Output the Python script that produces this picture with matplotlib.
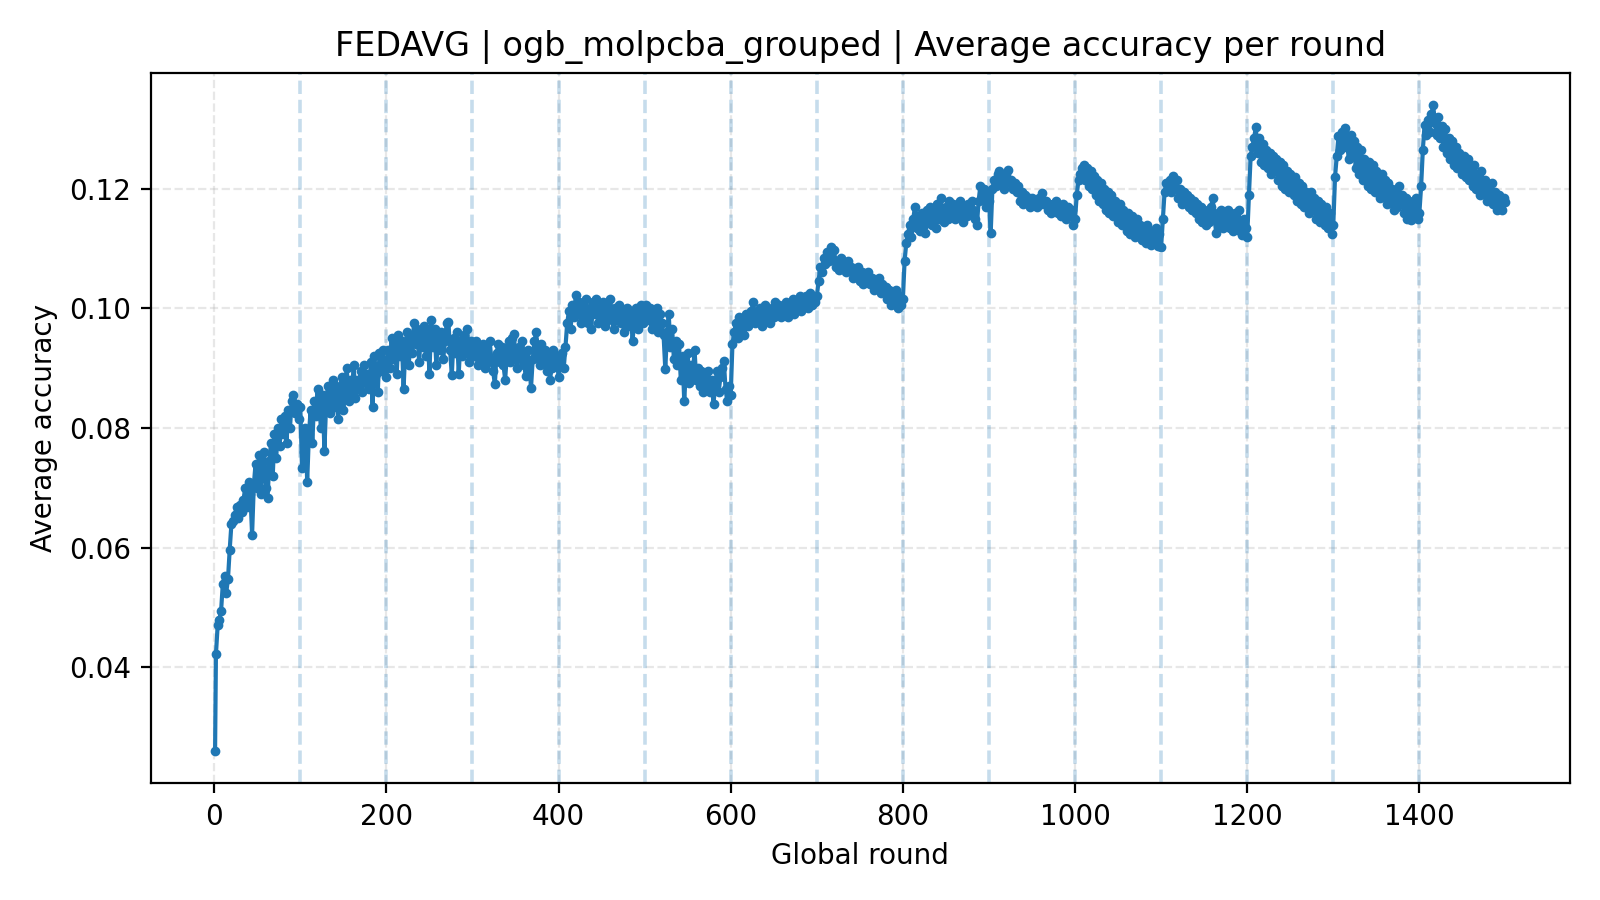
import matplotlib
matplotlib.use("Agg")
import matplotlib.pyplot as plt
import numpy as np

# ── Data: accuracy x 1e-4, one value every 2 rounds ──
FIRST_ROUND_ACC = 260

SEG_01 = [422, 470, 480, 495, 540, 553, 525, 548, 597, 640,
          645, 655, 668, 650, 672, 660, 680, 700, 668, 710,
          690, 622, 705, 740, 700, 755, 690, 735, 760, 700,
          683, 745, 775, 720, 790, 750, 800, 770, 815, 790,
          820, 775, 830, 800, 845, 856, 825, 840, 815, 835]
SEG_02 = [733, 760, 800, 710, 790, 830, 775, 845, 820, 865,
          835, 800, 855, 762, 840, 870, 825, 860, 880, 835,
          870, 815, 860, 885, 830, 870, 900, 845, 880, 860,
          905, 850, 880, 865, 895, 860, 905, 875, 890, 865,
          910, 835, 920, 890, 860, 925, 895, 930, 900, 885]
SEG_03 = [930, 900, 950, 915, 940, 890, 955, 920, 945, 866,
          935, 960, 905, 950, 925, 975, 940, 965, 910, 955,
          935, 970, 920, 960, 890, 980, 935, 965, 905, 950,
          930, 960, 915, 945, 975, 978, 930, 888, 950, 925,
          960, 890, 945, 920, 955, 930, 965, 910, 945, 935]
SEG_04 = [920, 945, 905, 935, 915, 940, 900, 930, 910, 945,
          915, 895, 873, 925, 940, 910, 935, 905, 881, 925,
          945, 910, 950, 957, 920, 900, 935, 915, 945, 905,
          887, 930, 910, 867, 915, 945, 960, 925, 905, 940,
          915, 930, 895, 920, 881, 900, 930, 905, 920, 885]
SEG_05 = [905, 925, 900, 935, 975, 995, 965, 1005, 985, 1023,
          990, 1010, 975, 1005, 985, 1015, 975, 1000, 965, 1010,
          990, 1015, 975, 1000, 985, 1010, 970, 1000, 980, 1015,
          990, 965, 1000, 980, 1005, 975, 995, 960, 990, 1000,
          970, 995, 945, 985, 1000, 965, 990, 1005, 975, 995]
SEG_06 = [1005, 980, 1000, 965, 995, 975, 1000, 960, 990, 975,
          955, 898, 960, 990, 935, 965, 915, 945, 905, 940,
          880, 920, 845, 900, 925, 875, 905, 890, 930, 880,
          900, 870, 895, 860, 885, 870, 895, 860, 880, 840,
          875, 895, 860, 885, 900, 912, 865, 845, 870, 855]
SEG_07 = [940, 960, 975, 950, 985, 965, 980, 955, 990, 970,
          985, 995, 1010, 975, 995, 980, 1000, 970, 990, 1005,
          980, 995, 975, 1000, 985, 1010, 990, 1005, 985, 1000,
          990, 1010, 985, 1005, 995, 1015, 990, 1010, 1000, 1020,
          995, 1015, 1005, 1020, 1000, 1025, 1005, 1015, 1010, 1020]
SEG_08 = [1045, 1070, 1060, 1085, 1075, 1095, 1080, 1102, 1085, 1098,
          1070, 1080, 1065, 1085, 1070, 1075, 1060, 1080, 1065, 1070,
          1050, 1065, 1055, 1070, 1045, 1060, 1040, 1055, 1045, 1060,
          1040, 1050, 1030, 1045, 1035, 1050, 1025, 1040, 1030, 1035,
          1015, 1030, 1005, 1025, 1015, 1030, 1000, 1020, 1005, 1015]
SEG_09 = [1080, 1110, 1125, 1140, 1120, 1150, 1169, 1135, 1155, 1130,
          1160, 1140, 1126, 1165, 1145, 1170, 1140, 1160, 1135, 1175,
          1150, 1185, 1160, 1145, 1170, 1150, 1180, 1160, 1175, 1150,
          1170, 1155, 1180, 1160, 1145, 1170, 1155, 1175, 1160, 1180,
          1165, 1150, 1139, 1180, 1205, 1185, 1200, 1170, 1190, 1180]
SEG_10 = [1126, 1200, 1215, 1205, 1225, 1230, 1210, 1220, 1200, 1225,
          1231, 1210, 1215, 1200, 1210, 1195, 1205, 1180, 1195, 1175,
          1190, 1180, 1185, 1170, 1185, 1175, 1180, 1170, 1185, 1175,
          1193, 1175, 1180, 1165, 1175, 1160, 1175, 1165, 1180, 1160,
          1170, 1155, 1175, 1160, 1150, 1170, 1155, 1165, 1140, 1150]
SEG_11 = [1190, 1215, 1225, 1235, 1240, 1215, 1235, 1205, 1230, 1200,
          1222, 1190, 1215, 1180, 1210, 1175, 1200, 1165, 1195, 1160,
          1190, 1155, 1180, 1165, 1145, 1175, 1140, 1165, 1150, 1130,
          1160, 1125, 1155, 1135, 1120, 1150, 1125, 1140, 1115, 1135,
          1110, 1140, 1120, 1106, 1130, 1110, 1135, 1105, 1125, 1103]
SEG_12 = [1150, 1195, 1210, 1200, 1215, 1195, 1221, 1200, 1215, 1185,
          1200, 1175, 1195, 1180, 1190, 1170, 1185, 1165, 1180, 1160,
          1175, 1150, 1170, 1145, 1165, 1140, 1160, 1145, 1170, 1184,
          1150, 1126, 1160, 1140, 1165, 1135, 1160, 1140, 1165, 1135,
          1155, 1130, 1160, 1140, 1165, 1130, 1123, 1150, 1135, 1120]
SEG_13 = [1190, 1255, 1270, 1285, 1303, 1260, 1285, 1245, 1275, 1240,
          1265, 1235, 1260, 1225, 1255, 1230, 1250, 1215, 1245, 1205,
          1240, 1200, 1230, 1195, 1225, 1210, 1190, 1220, 1180, 1210,
          1175, 1205, 1170, 1195, 1180, 1160, 1195, 1165, 1185, 1150,
          1180, 1145, 1175, 1155, 1140, 1170, 1135, 1160, 1125, 1140]
SEG_14 = [1220, 1255, 1288, 1265, 1295, 1270, 1302, 1275, 1250, 1290,
          1255, 1280, 1235, 1270, 1225, 1265, 1215, 1250, 1235, 1205,
          1245, 1200, 1240, 1195, 1230, 1210, 1185, 1225, 1190, 1215,
          1175, 1210, 1180, 1200, 1165, 1195, 1170, 1205, 1175, 1190,
          1160, 1185, 1150, 1180, 1148, 1175, 1155, 1185, 1150, 1160]
SEG_15 = [1204, 1265, 1307, 1290, 1315, 1295, 1325, 1340, 1310, 1290,
          1320, 1285, 1305, 1270, 1300, 1260, 1285, 1250, 1280, 1240,
          1270, 1235, 1260, 1245, 1225, 1255, 1220, 1250, 1215, 1235,
          1205, 1240, 1200, 1225, 1190, 1230, 1195, 1215, 1180, 1205,
          1185, 1210, 1175, 1195, 1165, 1190, 1170, 1164, 1185, 1178]

SEGMENTS = [SEG_01, SEG_02, SEG_03, SEG_04, SEG_05, SEG_06, SEG_07, SEG_08,
            SEG_09, SEG_10, SEG_11, SEG_12, SEG_13, SEG_14, SEG_15]

CYCLE_MARKS = list(range(100, 1500, 100))

TITLE = "FEDAVG | ogb_molpcba_grouped | Average accuracy per round"

BLUE = "#1f77b4"


rounds = [1] + list(range(2, 1501, 2))
acc = np.array([FIRST_ROUND_ACC] + [v for seg in SEGMENTS for v in seg]) / 10000.0

fig, ax = plt.subplots(figsize=(8, 4.5), dpi=200)

ax.grid(True, linestyle="--", alpha=0.3)
for r in CYCLE_MARKS:
    ax.axvline(r, color=BLUE, linestyle="--", linewidth=1.3, alpha=0.25)

ax.plot(rounds, acc, color=BLUE, linewidth=1.5, marker="o", markersize=2.5)

ax.set_title(TITLE)
ax.set_xlabel("Global round")
ax.set_ylabel("Average accuracy")

plt.tight_layout()
plt.savefig("out.png", dpi=200)
